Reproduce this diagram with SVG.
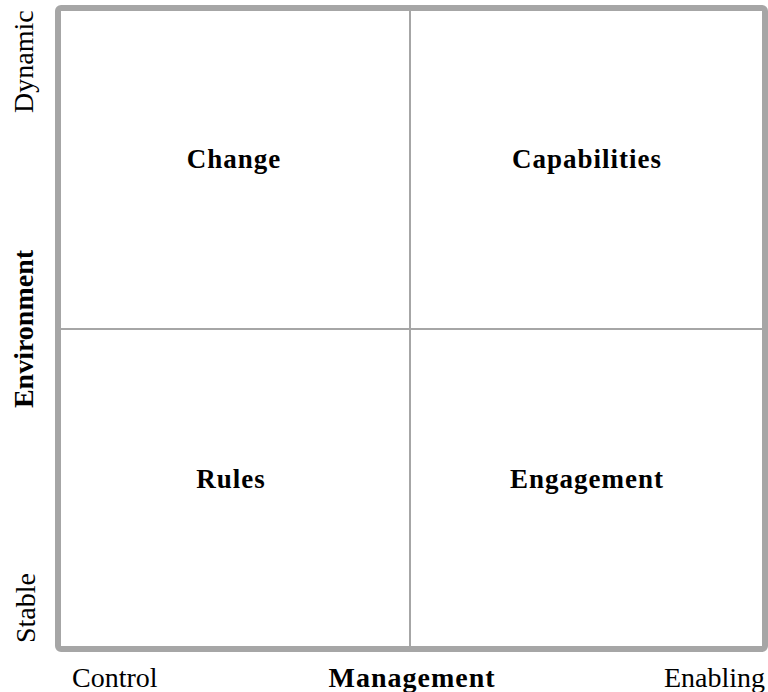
<svg xmlns="http://www.w3.org/2000/svg" width="768" height="692" viewBox="0 0 768 692">
<style>
text{font-family:"Liberation Serif","Times New Roman",serif;fill:#000}
.ax{font-size:28px}
.b{font-weight:bold}
.q{font-size:27px;font-weight:bold;letter-spacing:1px;text-anchor:middle}
</style>
<rect x="0" y="0" width="768" height="692" fill="#fff"/>
<g id="grid">
<line x1="410" y1="8" x2="410" y2="649" stroke="#a6a6a6" stroke-width="2"/>
<line x1="58" y1="329" x2="765" y2="329" stroke="#a6a6a6" stroke-width="2"/>
</g>
<g id="frame">
<rect x="58" y="8" width="707" height="641" rx="3" fill="none" stroke="#a6a6a6" stroke-width="6"/>
</g>
<g id="q-change"><text class="q" x="234" y="168">Change</text></g>
<g id="q-capabilities"><text class="q" x="587" y="168">Capabilities</text></g>
<g id="q-rules"><text class="q" x="231" y="488">Rules</text></g>
<g id="q-engagement"><text class="q" x="587" y="488">Engagement</text></g>
<g id="y-axis">
<text class="ax" transform="translate(33,113) rotate(-90)">Dynamic</text>
<text class="ax" transform="translate(35,643) rotate(-90)">Stable</text>
<text class="ax b" text-anchor="middle" transform="translate(33,329) rotate(-90)">Environment</text>
</g>
<g id="x-axis">
<text class="ax" x="72" y="687">Control</text>
<text class="ax b" x="412" y="687" text-anchor="middle" letter-spacing="1">Management</text>
<text class="ax" x="765" y="687" text-anchor="end">Enabling</text>
</g>
</svg>
